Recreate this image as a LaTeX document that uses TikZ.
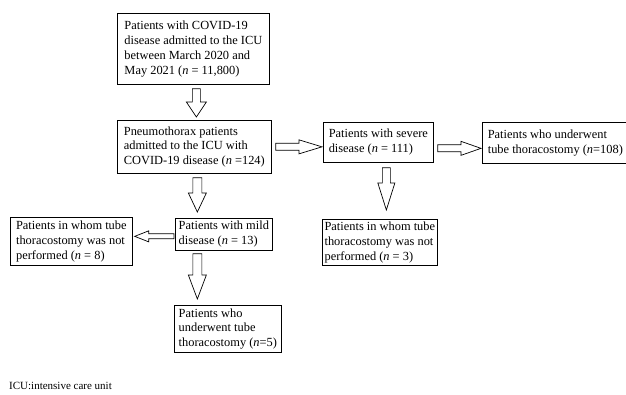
\documentclass[tikz,border=0pt]{standalone}
\usepackage{fontspec}
\setmainfont{Liberation Serif}
\usetikzlibrary{calc}
\tikzset{
  x=1pt, y=-1pt,
  box/.style={draw, line width=0.7pt, anchor=north west, align=left,
    inner sep=1pt, font=\fontsize{12.4}{14.8}\selectfont},
  blockarrow/.style args={#1/#2/#3}{line width=0.7pt, to path={
    ($(\tikztostart)!#1!90:(\tikztotarget)$) --
    ($($(\tikztotarget)!#3!(\tikztostart)$)!#1!90:(\tikztotarget)$) --
    ($($(\tikztotarget)!#3!(\tikztostart)$)!#2!90:(\tikztotarget)$) --
    (\tikztotarget) --
    ($($(\tikztotarget)!#3!(\tikztostart)$)!#2!-90:(\tikztotarget)$) --
    ($($(\tikztotarget)!#3!(\tikztostart)$)!#1!-90:(\tikztotarget)$) --
    ($(\tikztostart)!#1!-90:(\tikztotarget)$) -- cycle}},
  note/.style={anchor=base west, inner sep=0pt, font=\fontsize{11}{13}\selectfont}
}
\begin{document}
\begin{tikzpicture}
\useasboundingbox (0,0) rectangle (626,395);
\node[box, minimum width=152pt, minimum height=71pt] (b1) at (117,13)
  {Patients with COVID-19\\disease admitted to the ICU\\between March 2020 and\\May 2021 (\textit{n} = 11,800)};
\node[box, minimum width=154pt, minimum height=53pt] (b2) at (117,120)
  {Pneumothorax patients\\admitted to the ICU with\\COVID-19 disease (\textit{n} =124)};
\node[box, minimum width=110pt, minimum height=40pt] (b3) at (323,122)
  {Patients with severe\\disease (\textit{n} = 111)};
\node[box, minimum width=146pt, minimum height=41pt] (b4) at (482,122)
  {Patients who underwent\\tube thoracostomy (\textit{n}=108)};
\node[box, minimum width=115pt, minimum height=46pt] (b5) at (322,219)
  {Patients in whom tube\\thoracostomy was not\\performed (\textit{n} = 3)};
\node[box, minimum width=97pt, minimum height=32pt] (b6) at (175,218)
  {Patients with mild\\disease (\textit{n} = 13)};
\node[box, minimum width=122pt, minimum height=48pt] (b7) at (10,217)
  {Patients in whom tube\\thoracostomy was not\\performed (\textit{n} = 8)};
\node[box, minimum width=107pt, minimum height=47pt] (b8) at (174,305)
  {Patients who\\underwent tube\\thoracostomy (\textit{n}=5)};
\node[note] (fn) at (9,389) {ICU:intensive care unit};

\draw[blockarrow=4pt/10pt/15pt] ([xshift=3pt,yshift=-4pt]b1.south) to ([xshift=2pt,yshift=3pt]b2.north);
\draw[blockarrow=4.5pt/9pt/19pt] ([xshift=3pt,yshift=-4pt]b2.south) to ([xshift=-26.5pt,yshift=6pt]b6.north);
\draw[blockarrow=4.5pt/9pt/24pt] ([xshift=-26.5pt,yshift=-3pt]b6.south) to ([xshift=-30.5pt,yshift=6pt]b8.north);
\draw[blockarrow=3.5pt/7pt/23pt] ([xshift=4pt]b2.east) to ([xshift=-1pt,yshift=-4.5pt]b3.west);
\draw[blockarrow=3.5pt/7pt/20pt] ([xshift=4pt,yshift=-6pt]b3.east) to ([xshift=-1pt,yshift=-5.5pt]b4.west);
\draw[blockarrow=2.5pt/5.5pt/14pt] ([xshift=-1pt,yshift=-2pt]b6.west) to ([xshift=2pt,yshift=5pt]b7.east);
\draw[blockarrow=4pt/8.5pt/27pt] ([xshift=8pt,yshift=-5pt]b3.south) to ([xshift=6.5pt,yshift=9pt]b5.north);
\end{tikzpicture}
\end{document}
